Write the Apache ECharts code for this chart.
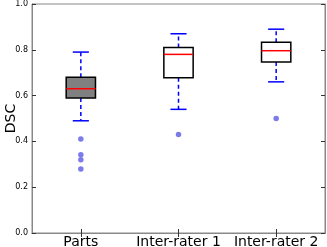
<!DOCTYPE html>
<html><head><meta charset="utf-8">
<script src="https://cdn.jsdelivr.net/npm/echarts@6/dist/echarts.min.js"></script>
<style>html,body{margin:0;padding:0;background:#fff}#c{width:327px;height:247px}</style>
</head><body><div id="c"></div>
<script>
const categories = ['Parts', 'Inter-rater 1', 'Inter-rater 2'];
const whiskerLow = [0.49, 0.54, 0.66];
const q1 = [0.59, 0.678, 0.747];
const median = [0.63, 0.78, 0.796];
const q3 = [0.68, 0.81, 0.833];
const whiskerHigh = [0.79, 0.87, 0.89];
const outliers = [[0, 0.41], [0, 0.342], [0, 0.32], [0, 0.28], [1, 0.43], [2, 0.50]];
const yTicks = [0, 0.2, 0.4, 0.6, 0.8, 1.0];

const boxData = categories.map((c, i) => [i, whiskerLow[i], q1[i], median[i], q3[i], whiskerHigh[i]]);
const fills = ['#808080', '#ffffff', '#ffffff'];

const chart = echarts.init(document.getElementById('c'), null, {renderer: 'canvas'});
const font = 'DejaVu Sans';
chart.setOption({
  animation: false,
  grid: {left: 32, right: 2, top: 4, bottom: 14, show: true, borderColor: '#888', borderWidth: 1,
    containLabel: false, outerBoundsMode: 'none'},
  xAxis: [{
    type: 'category', data: categories, boundaryGap: true,
    axisLine: {show: true, lineStyle: {color: '#888', width: 1}},
    axisTick: {show: true, inside: true, alignWithLabel: true, length: 4, lineStyle: {color: '#333'}},
    axisLabel: {color: '#000', fontFamily: font, fontSize: 14, margin: 2, interval: 0, hideOverlap: false},
    splitLine: {show: false}
  }, {
    type: 'category', data: categories, position: 'top', boundaryGap: true,
    axisLine: {show: true, lineStyle: {color: '#888', width: 1}},
    axisTick: {show: true, inside: true, alignWithLabel: true, length: 4, lineStyle: {color: '#333'}},
    axisLabel: {show: false}, splitLine: {show: false}
  }],
  yAxis: [{
    type: 'value', min: 0, max: 1, interval: 0.2,
    name: 'DSC', nameLocation: 'middle', nameGap: 14, nameRotate: 90, nameMoveOverlap: false,
    nameTextStyle: {color: '#000', fontFamily: font, fontSize: 14},
    axisLine: {show: true, lineStyle: {color: '#888', width: 1}},
    axisTick: {show: true, inside: true, length: 4, lineStyle: {color: '#333'}},
    axisLabel: {color: '#000', fontFamily: font, fontSize: 8, margin: 4, formatter: v => v.toFixed(1)},
    splitLine: {show: false}
  }, {
    type: 'value', min: 0, max: 1, interval: 0.2, position: 'right',
    axisLine: {show: true, lineStyle: {color: '#888', width: 1}},
    axisTick: {show: true, inside: true, length: 4, lineStyle: {color: '#333'}},
    axisLabel: {show: false}, splitLine: {show: false}
  }],
  series: [{
    type: 'custom',
    xAxisIndex: 0, yAxisIndex: 0,
    data: boxData,
    renderItem: function (params, api) {
      const i = api.value(0);
      const band = api.size([1, 0])[0];
      const bw = band * 0.30, cw = band * 0.165;
      const pLow = api.coord([i, api.value(1)]);
      const pQ1 = api.coord([i, api.value(2)]);
      const pMed = api.coord([i, api.value(3)]);
      const pQ3 = api.coord([i, api.value(4)]);
      const pHigh = api.coord([i, api.value(5)]);
      const cx = pMed[0];
      const dash = {stroke: '#0000ff', lineWidth: 1.5, lineDash: [4, 3]};
      const solid = {stroke: '#0000ff', lineWidth: 1.5};
      return {
        type: 'group',
        children: [
          {type: 'line', shape: {x1: cx, y1: pQ3[1], x2: cx, y2: pHigh[1]}, style: dash},
          {type: 'line', shape: {x1: cx, y1: pQ1[1], x2: cx, y2: pLow[1]}, style: dash},
          {type: 'line', shape: {x1: cx - cw / 2, y1: pHigh[1], x2: cx + cw / 2, y2: pHigh[1]}, style: solid},
          {type: 'line', shape: {x1: cx - cw / 2, y1: pLow[1], x2: cx + cw / 2, y2: pLow[1]}, style: solid},
          {type: 'rect', shape: {x: cx - bw / 2, y: pQ3[1], width: bw, height: pQ1[1] - pQ3[1]},
            style: {fill: fills[i], stroke: '#000', lineWidth: 1.5}},
          {type: 'line', shape: {x1: cx - bw / 2, y1: pMed[1], x2: cx + bw / 2, y2: pMed[1]},
            style: {stroke: '#ff0000', lineWidth: 1.5}}
        ]
      };
    }
  }, {
    type: 'scatter', xAxisIndex: 0, yAxisIndex: 0,
    data: outliers, symbolSize: 5.5,
    itemStyle: {color: '#7b7bec', opacity: 1}
  }]
});
</script></body></html>
